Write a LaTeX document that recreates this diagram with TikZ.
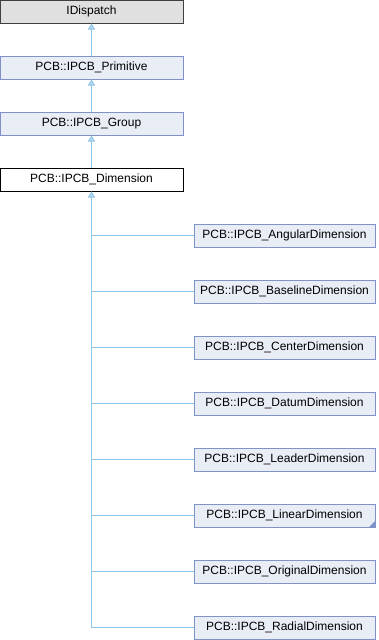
\documentclass[tikz,border=0pt]{standalone}
\usepackage{fontspec}
\setmainfont{Liberation Sans}
\usetikzlibrary{arrows.meta}
\definecolor{boxfill}{HTML}{E8EDF6}
\definecolor{boxdraw}{HTML}{7F93C6}
\definecolor{basefill}{HTML}{E0E0E0}
\definecolor{linkcol}{HTML}{8DC4E8}
\begin{document}
\begin{tikzpicture}[x=1pt,y=-1pt,
  cls/.style={draw=boxdraw,fill=boxfill,line width=1pt,minimum width=183pt,minimum height=23pt,inner sep=0pt,font=\fontsize{12}{14}\selectfont},
  sub/.style={cls,minimum width=181pt},
  extbox/.style={cls,draw=black!75,fill=basefill},
  curbox/.style={cls,draw=black,fill=white},
  link/.style={draw=linkcol,line width=1pt},
  inh/.style={link,{Triangle[width=7pt,length=6pt,fill=linkcol!60]}-}]
\useasboundingbox (0,0) rectangle (378,640);
\node[extbox] (idisp) at (91.5,11.5) {IDispatch};
\node[cls] (prim) at (91.5,67.5) {PCB::IPCB\_Primitive};
\node[cls] (grp) at (91.5,123.5) {PCB::IPCB\_Group};
\node[curbox] (dim) at (91.5,179.5) {PCB::IPCB\_Dimension};
\node[sub] (ang) at (284.5,235.5) {PCB::IPCB\_AngularDimension};
\node[sub] (base) at (284.5,291.5) {PCB::IPCB\_BaselineDimension};
\node[sub] (cent) at (284.5,347.5) {PCB::IPCB\_CenterDimension};
\node[sub] (dat) at (284.5,403.5) {PCB::IPCB\_DatumDimension};
\node[sub] (lead) at (284.5,459.5) {PCB::IPCB\_LeaderDimension};
\node[sub] (lin) at (284.5,515.5) {PCB::IPCB\_LinearDimension};
\node[sub] (orig) at (284.5,571.5) {PCB::IPCB\_OriginalDimension};
\node[sub] (rad) at (284.5,627.5) {PCB::IPCB\_RadialDimension};
\fill[boxdraw] (lin.south east) -- ++(-7,0) -- ++(7,-7) -- cycle;
\draw[inh] (idisp.south) -- (prim.north);
\draw[inh] (prim.south) -- (grp.north);
\draw[inh] (grp.south) -- (dim.north);
\foreach \n in {ang,base,cent,dat,lead,lin,orig}{
  \draw[link] (dim.south) |- (\n.west);
}
\draw[inh] (dim.south) |- (rad.west);
\end{tikzpicture}
\end{document}
